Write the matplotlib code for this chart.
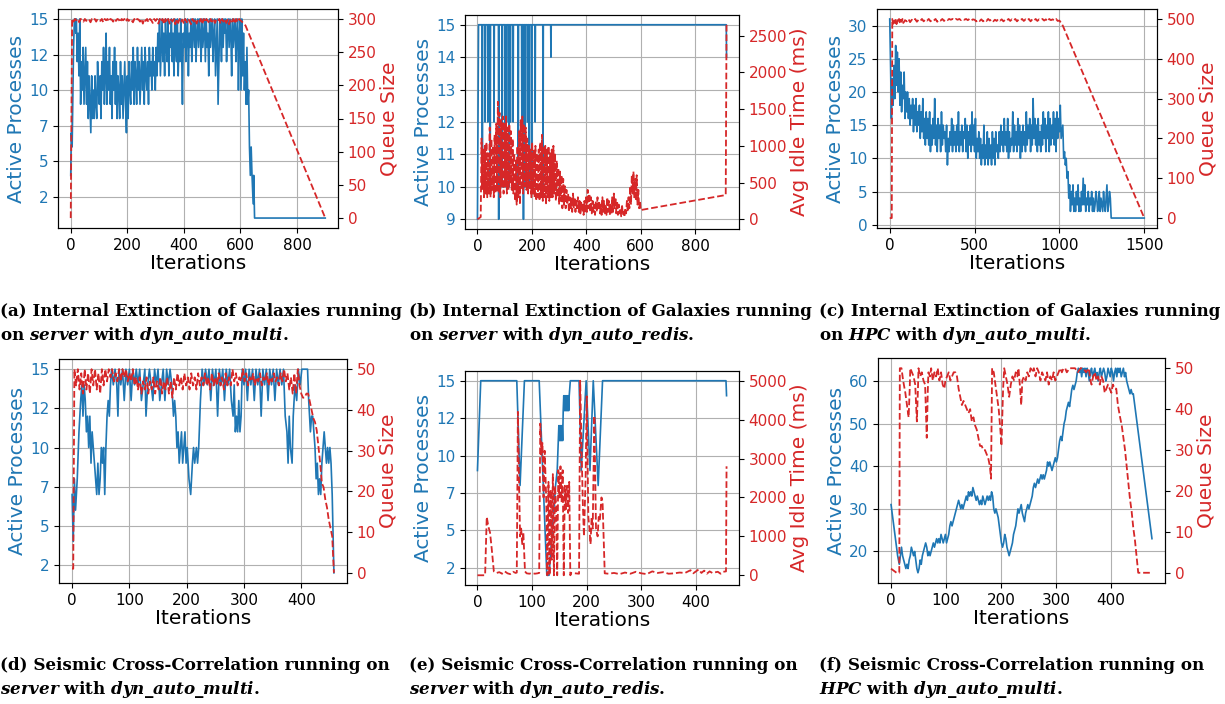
import matplotlib
matplotlib.use('Agg')
import matplotlib.pyplot as plt
import numpy as np
from matplotlib.ticker import MultipleLocator, FormatStrFormatter

plt.rcParams.update({
    'mathtext.fontset': 'custom',
    'mathtext.rm': 'DejaVu Serif:bold',
    'mathtext.it': 'DejaVu Serif:italic:bold',
    'mathtext.bf': 'DejaVu Serif:bold',
})

BLUE = '#1f77b4'
RED = '#d62728'

# ---------------- data (iteration, value) ----------------
a_proc = [(0,4),(2,7),(5,6),(8,10),(10,13),(13,15),(16,15),(18,14),
    (20,15),(23,12),(26,14),(29,11),(32,15),(35,9),(38,12),(41,10),(44,13),(47,9),(50,11),(53,13),(56,9),(59,12),
    (62,8),(65,11),(68,9),(71,7),(74,11),(77,8),(80,10),(83,8),(86,11),(89,9),(92,8),(95,12),(98,10),(101,9),(104,11),(107,8),
    (110,12),(113,10),(116,13),(119,9),(122,11),(125,14),(128,9),(131,12),(134,10),(137,13),(140,9),(143,11),(146,8),(149,12),
    (152,10),(155,13),(158,9),(161,12),(164,8),(167,11),(170,10),(173,8),(176,12),(179,9),(182,11),(185,8),(188,10),(191,12),(194,9),(197,7),
    (200,11),(203,8),(206,12),(209,10),(212,9),(215,12),(218,10),(221,13),(224,9),(227,12),(230,11),(233,9),(236,13),(239,10),(242,12),
    (245,9),(248,11),(251,13),(254,10),(257,12),(260,9),(263,13),(266,11),(269,10),(272,12),(275,9),(278,13),(281,11),(284,12),(287,10),
    (290,13),(293,11),(296,12),(299,10),
    (302,13),(305,11),(308,14),(311,12),(314,15),(317,11),(320,13),(323,15),(326,12),(329,14),(332,11),(335,15),(338,13),(341,12),(344,15),
    (347,11),(350,14),(353,13),(356,15),(359,12),(362,14),(365,11),(368,15),(371,13),(374,12),(377,15),(380,11),(383,14),(386,12),(389,15),
    (392,13),(395,9),(398,14),
    (401,13),(404,15),(407,12),(410,14),(413,15),(416,11),(419,14),(422,13),(425,15),(428,12),(431,14),(434,15),(437,13),(440,15),(443,12),
    (446,14),(449,15),(452,13),(455,15),(458,14),(461,12),(464,15),(467,13),(470,14),(473,15),(476,12),(479,15),(482,13),(485,14),(488,11),
    (491,15),(494,13),(497,14),(500,15),(503,12),(506,14),(509,15),(512,11),(515,13),(518,15),(521,9),(524,12),(527,15),(530,14),(533,12),
    (536,15),(539,13),(542,15),(545,14),(548,15),(551,12),(554,14),(557,15),(560,13),(563,15),(566,14),(569,11),(572,15),(575,13),(578,14),
    (581,15),(584,12),(587,14),(590,15),(593,10),(596,14),(599,15),
    (602,10),(605,15),(608,11),(611,14),(614,10),(617,12),(620,9),(623,13),(626,9),(629,10),(632,6),(635,4),(638,6),(641,4),(643,3),
    (645,2),(647,4),(650,1),(900,1)]

a_queue = [(0,0),(5,300),(10,296),(15,300),(20,298),(25,300),(30,295),(35,300),(40,299),(45,296),(50,300),(55,297),(60,300),(65,299),
    (70,295),(75,300),(80,298),(85,300),(90,296),(95,300),(100,299),(105,297),(110,300),(115,295),(120,300),(125,298),(130,300),(135,296),
    (140,300),(145,299),(150,296),(155,300),(160,297),(165,300),(170,299),(175,295),(180,300),(185,298),(190,300),(195,296),(200,300),
    (205,297),(210,300),(215,298),(220,295),(225,300),(230,297),(235,300),(240,299),(245,296),(250,300),(255,293),(260,300),(265,297),
    (270,300),(275,295),(280,300),(285,298),(290,294),(295,300),(300,297),(305,300),(310,293),(315,300),(320,296),(325,300),(330,292),
    (335,300),(340,295),(345,300),(350,293),(355,299),(360,296),(365,300),(370,292),(375,300),(380,294),(385,300),(390,296),(395,299),
    (400,293),(405,300),(410,295),(415,300),(420,297),(425,292),(430,300),(435,296),(440,300),(445,293),(450,299),(455,296),(460,300),
    (465,292),(470,300),(475,295),(480,300),(485,297),(490,293),(495,300),(500,296),(505,300),(510,294),(515,299),(520,297),(525,300),
    (530,293),(535,300),(540,296),(545,300),(550,294),(555,299),(560,292),(565,300),(570,296),(575,300),(580,293),(585,300),(590,295),
    (595,300),(600,298),(610,294),(618,290),(900,0)]

b_proc = [(0,9),(4,15),(17,15),(18,10),(19,15),(27,15),(28,12),(29,15),(37,15),(38,12),(39,15),(46,15),(47,10),(48,15),(60,15),(61,12),
    (62,15),(77,15),(78,9),(79,15),(90,15),(91,10),(92,15),(101,15),(102,10),(103,15),(106,15),(107,12),(108,15),(115,15),(116,10),(117,15),
    (120,15),(121,12),(122,15),(130,15),(131,12),(132,15),(149,15),(150,10),(151,15),(162,15),(163,12),(164,15),(168,15),(169,9),(170,15),
    (174,15),(175,10),(176,15),(183,15),(184,12),(185,15),(189,15),(190,10),(191,15),(198,15),(199,10),(200,15),(211,15),(212,12),(213,15),
    (240,15),(241,10),(242,15),(269,15),(270,14),(271,15),(914,15),(915,14)]

b_idle = [(0,0),(12,30),(15,1100),(18,400),(21,950),(24,300),(27,1000),(30,350),(33,1050),(36,300),(39,900),(42,350),(45,1250),(48,300),
    (51,1100),(54,400),(57,1000),(60,300),(63,1150),(66,350),(69,1300),(72,400),(75,1600),(78,350),(81,1450),(84,300),(87,1350),(90,450),
    (93,1400),(96,350),(99,1300),(102,450),(105,1400),(108,350),(111,1250),(114,400),(117,1300),(120,500),(123,1200),(126,400),(129,1100),
    (132,350),(135,900),(138,250),(141,800),(144,200),(147,1000),(150,300),(153,1200),(156,200),(159,1350),(162,400),(165,1400),(168,350),
    (171,1300),(174,450),(177,1250),(180,400),(183,1100),(186,350),(189,1000),(192,400),(195,950),(198,300),(201,1050),(204,350),(207,950),
    (210,300),(213,1000),(216,250),(219,900),(222,300),(225,950),(228,250),(231,1050),(234,300),(237,1150),(240,250),(243,1000),(246,300),
    (249,1000),(252,200),(255,950),(258,300),(261,1000),(264,250),(267,900),(270,300),(273,950),(276,300),(279,1000),(282,350),(285,900),
    (288,250),(291,800),(294,300),(297,700),(300,200),(303,650),(306,250),(309,600),(312,150),(315,550),(318,200),(321,450),(324,150),
    (327,400),(330,200),(333,350),(336,100),(339,300),(342,150),(345,300),(348,100),(351,350),(354,150),(357,300),(360,100),(363,250),
    (366,150),(369,300),(372,100),(375,250),(378,80),(381,250),(384,100),(387,220),(390,60),(393,250),(396,80),(399,300),(402,100),
    (405,400),(408,150),(411,350),(414,100),(417,300),(420,80),(423,250),(426,100),(429,200),(432,60),(435,250),(438,100),(441,300),
    (444,120),(447,250),(450,80),(453,200),(456,60),(459,300),(462,100),(465,250),(468,80),(471,200),(474,60),(477,300),(480,100),
    (483,250),(486,60),(489,200),(492,80),(495,300),(498,100),(501,350),(504,150),(507,300),(510,80),(513,250),(516,60),(519,200),
    (522,80),(525,150),(528,40),(531,200),(534,60),(537,100),(540,30),(543,150),(546,80),(549,250),(552,100),(555,300),(558,150),
    (561,450),(564,200),(567,600),(570,350),(573,650),(576,300),(579,550),(582,250),(585,600),(588,200),(591,400),(594,150),(597,250),
    (600,120),(606,130),(912,330),(915,2650)]

c_proc = [(0,31),(5,24),(10,16),(15,22),(20,18),(25,24),(30,19),(35,27),(40,21),(45,26),(50,20),(55,25),(60,18),(65,23),(70,17),(75,21),
    (80,19),(85,23),(90,16),(95,20),
    (100,17),(105,20),(110,16),(115,19),(120,15),(125,18),(130,16),(135,19),(140,14),(145,18),(150,15),(155,19),(160,14),(165,17),(170,15),
    (175,18),(180,13),(185,17),(190,14),(195,19),(200,13),(205,16),(210,12),(215,17),(220,13),(225,16),(230,12),(235,17),(240,11),(245,15),
    (250,12),(255,16),(260,13),(265,19),(270,12),(275,15),(280,11),(285,16),(290,13),(295,15),(300,11),(305,17),(310,12),(315,15),(320,13),
    (325,14),(330,11),(335,15),(340,9),(345,13),(350,11),(355,14),(360,12),(365,16),(370,11),(375,15),(380,12),(385,14),(390,11),(395,15),
    (400,12),(405,17),(410,11),(415,14),(420,12),(425,15),(430,11),(435,14),(440,13),(445,16),(450,11),(455,15),(460,10),(465,14),(470,12),
    (475,15),(480,11),(485,17),(490,12),(495,15),(500,11),(505,16),(510,10),(515,13),(520,11),(525,14),(530,10),(535,13),(540,9),(545,12),
    (550,10),(555,15),(560,9),(565,12),(570,10),(575,14),(580,9),(585,13),(590,10),(595,12),(600,9),(605,14),(610,10),(615,13),(620,9),
    (625,14),(630,11),(635,12),(640,10),(645,14),(650,11),(655,15),(660,12),(665,14),(670,11),(675,16),(680,12),(685,14),(690,11),(695,16),
    (700,10),(705,14),(710,11),(715,13),(720,12),(725,17),(730,11),(735,15),(740,12),(745,14),(750,11),(755,16),(760,12),(765,15),(770,10),
    (775,14),(780,11),(785,15),(790,12),(795,14),(800,11),(805,17),(810,12),(815,15),(820,13),(825,16),(830,11),(835,15),(840,12),(845,19),
    (850,13),(855,16),(860,12),(865,15),(870,11),(875,16),(880,12),(885,14),(890,11),(895,15),(900,12),(905,17),(910,13),(915,16),(920,11),
    (925,15),(930,13),(935,17),(940,11),(945,16),(950,12),(955,15),(960,13),(965,17),(970,12),(975,16),(980,11),(985,17),(990,13),(995,16),
    (1000,14),(1005,18),(1010,13),(1020,15),(1025,10),(1030,11),(1035,9),(1040,10),(1045,7),(1050,8),
    (1055,4),(1060,6),(1065,2),(1070,5),(1075,3),(1080,6),(1085,2),(1090,4),(1095,2),(1100,5),(1105,3),(1110,6),(1115,2),(1120,4),(1125,2),
    (1130,5),(1135,3),(1140,7),(1145,3),(1150,6),(1155,2),(1160,4),(1165,3),(1170,5),(1175,2),(1180,4),(1185,3),(1190,5),(1195,2),(1200,4),
    (1205,2),(1210,3),(1215,5),(1220,4),(1225,2),(1230,3),(1235,5),(1240,2),(1245,4),(1250,3),(1255,2),(1260,5),(1265,3),(1270,2),(1275,4),
    (1280,6),(1285,2),(1290,3),(1295,5),(1300,4),(1305,1),(1500,1)]

c_queue = [(0,0),(12,0),(15,500),(20,488),(25,498),(30,490),(35,500),(40,487),(45,497),(50,492),(55,500),(60,489),(65,498),(70,493),
    (75,500),(80,490),(90,497),(100,494),(110,500),(120,492),(130,498),(140,495),(150,500),(160,493),(170,498),(180,495),(190,500),
    (200,494),(210,499),(220,496),(230,500),(240,494),(250,498),(260,496),(270,500),(280,493),(290,498),(300,496),(310,500),(320,495),
    (330,499),(340,497),(350,500),(360,498),(370,500),(380,497),(390,500),(400,498),(410,500),(420,497),(430,500),(440,498),(450,500),
    (460,497),(470,500),(480,496),(490,499),(500,498),(510,494),(520,498),(530,495),(540,499),(550,494),(560,498),(570,495),(580,500),
    (590,496),(600,499),(610,494),(620,498),(630,495),(640,500),(650,496),(660,499),(670,494),(680,498),(690,496),(700,500),(710,495),
    (720,499),(730,496),(740,500),(750,494),(760,499),(770,497),(780,500),(790,495),(800,499),(810,496),(820,500),(830,494),(840,499),
    (850,496),(860,500),(870,495),(880,499),(890,497),(900,500),(910,496),(920,499),(930,494),(940,500),(950,497),(960,499),(970,496),
    (980,500),(990,495),(1000,496),(1010,490),(1020,483),(1500,0)]

d_proc = [(0,7),(2,4),(4,8),(6,6),(9,8),(12,11),(15,13),(17,14),(19,12),(21,14),(23,13),(25,11),(27,12),(29,10),(31,12),(33,9),(35,11),
    (37,10),(39,9),(41,8),(43,7),(45,9),(47,7),(49,8),(51,10),(53,9),(55,10),(57,7),(59,10),(61,12),(63,13),(65,12),(67,14),(69,15),(72,14),
    (75,15),(78,14),(80,12),(82,15),(85,14),(88,15),(91,13),(94,15),(97,14),(100,15),(103,13),(106,15),(109,14),(112,15),(115,14),(118,15),
    (121,13),(124,14),(127,15),(129,12),(132,14),(135,15),(138,14),(141,13),(144,15),(147,14),(150,15),(153,13),(156,14),(159,15),(162,13),
    (165,15),(168,14),(171,15),(174,14),(177,12),(179,13),(181,12),(183,10),(185,11),(187,9),(189,10),(191,11),(193,9),(195,10),(197,11),
    (199,9),(201,10),(204,8),(207,7),(210,9),(212,10),(214,9),(217,10),(219,9),(221,10),(224,13),(227,15),(230,14),(233,15),(236,14),
    (239,15),(242,13),(245,15),(248,14),(251,15),(254,12),(257,15),(260,14),(263,15),(266,13),(269,15),(272,14),(275,15),(278,13),(281,12),
    (283,14),(285,11),(287,12),(289,11),(291,13),(293,11),(295,12),(297,15),(300,14),(303,15),(306,13),(309,15),(312,14),(315,15),(318,13),
    (321,15),(324,14),(327,15),(330,12),(333,15),(336,14),(339,15),(342,13),(345,15),(348,14),(351,15),(354,13),(357,15),(360,14),(363,15),
    (366,14),(369,15),(372,12),(375,11),(377,9),(379,12),(381,10),(384,9),(386,12),(389,14),(392,13),(395,15),(398,14),(401,15),(404,15),
    (408,15),(411,15),(413,13),(416,11),(418,12),(420,12),(422,11),(424,10),(426,8),(428,9),(430,7),(432,8),(434,7),(436,9),(438,10),
    (440,11),(442,10),(444,9),(446,10),(448,9),(450,10),(452,9),(454,7),(457,2)]

d_queue = [(0,1),(2,1),(4,50),(7,46),(10,50),(13,45),(16,49),(19,44),(22,50),(25,45),(28,49),(31,44),(34,50),(37,46),(40,50),(43,45),
    (46,49),(49,44),(52,50),(55,46),(58,50),(61,47),(64,50),(67,48),(70,50),(73,47),(76,49),(79,47),(82,50),(85,47),(88,50),(91,48),
    (94,50),(97,47),(100,49),(103,47),(106,50),(109,46),(112,48),(115,45),(118,48),(121,44),(124,47),(127,45),(130,48),(133,44),(136,47),
    (139,45),(142,48),(145,44),(148,47),(151,45),(154,48),(157,44),(160,47),(163,45),(166,48),(169,44),(172,47),(175,43),(178,48),(181,45),
    (184,49),(187,46),(190,48),(193,45),(196,49),(199,46),(202,48),(205,45),(208,49),(211,46),(214,48),(217,45),(220,49),(223,46),(226,48),
    (229,46),(232,49),(235,46),(238,48),(241,45),(244,49),(247,46),(250,48),(253,46),(256,49),(259,46),(262,48),(265,45),(268,49),(271,46),
    (274,48),(277,46),(280,50),(283,47),(286,49),(289,46),(292,48),(295,47),(298,50),(301,47),(304,49),(307,46),(310,48),(313,47),(316,49),
    (319,46),(322,48),(325,47),(328,49),(331,46),(334,48),(337,47),(340,49),(343,46),(346,48),(349,47),(352,49),(355,47),(358,48),(361,46),
    (364,49),(367,47),(370,50),(373,47),(376,49),(379,45),(382,48),(385,44),(388,49),(391,44),(394,50),(397,46),(400,44),(403,43),(406,43),
    (409,44),(412,44),(415,42),(418,40),(421,38),(424,37),(427,35),(430,31),(433,27),(436,22),(439,21),(442,18),(445,16),(448,13),(451,11),
    (454,9),(457,0)]

e_proc = [(0,9),(6,15),(72,15),(78,8),(86,15),(113,15),(127,2),(131,2),(135,4),(139,6),(143,8),(146,9),(149,12),(150,11),(151,12),(152,11),
    (153,12),(154,11),(155,12),(156,11),(157,13),(158,14),(159,13),(160,14),(161,13),(162,14),(163,13),(164,14),(165,13),(166,14),(167,13),
    (168,14),(170,15),(186,15),(190,9),(199,15),(206,9),(212,15),(221,8),(229,15),(455,15),(456,14)]

e_idle = [(0,0),(14,0),(17,1500),(20,1250),(23,1100),(26,700),(30,100),(35,60),(40,80),(45,40),(50,100),(55,50),(60,30),(65,90),(70,60),
    (72,70),(74,4200),(76,2500),(78,1000),(80,1200),(82,800),(84,1100),(87,100),(90,50),(95,40),(100,60),(105,40),(110,50),(113,60),
    (115,3900),(117,3100),(119,3400),(121,2000),(123,3200),(124,2800),(126,1900),(128,0),(130,2400),(132,0),(134,2200),(136,400),(138,2600),
    (140,0),(142,2300),(144,1800),(146,0),(148,2700),(150,2000),(152,2800),(154,1900),(156,2700),(158,0),(160,2300),(162,1700),(164,2300),
    (166,1600),(168,2400),(170,0),(172,60),(186,40),(188,5000),(191,3000),(193,1800),(195,1000),(198,2500),(200,4600),(203,1500),(205,1200),
    (207,800),(209,1500),(211,1200),(214,4100),(217,1200),(220,1000),(222,1500),(224,1400),(227,2000),(229,1900),(233,50),(240,40),
    (250,60),(260,30),(270,70),(280,40),(290,90),(300,50),(310,30),(320,100),(330,60),(340,80),(350,40),(360,50),(370,70),(380,60),
    (390,130),(395,50),(400,100),(405,150),(410,60),(415,120),(420,40),(425,100),(430,60),(440,90),(445,40),(450,90),(455,100),(456,2800)]

f_proc = [(0,31),(4,27),(8,23),(12,19),(15,17),(17,19),(19,21),(21,19),(23,18),(25,17),(27,16),(29,17),(31,16),(33,18),(35,19),(37,21),
    (39,20),(41,19),(43,20),(45,18),(47,16),(49,15),(51,16),(53,18),(55,17),(57,19),(59,20),(61,21),(63,22),(65,21),(67,19),(69,20),(71,19),
    (73,20),(75,21),(77,22),(79,21),(81,22),(83,23),(85,22),(87,23),(89,22),(91,24),(93,23),(95,22),(97,23),(99,24),(101,22),(103,23),
    (105,24),(107,26),(109,27),(111,26),(113,27),(115,28),(117,29),(119,30),(121,31),(123,32),(125,31),(127,30),(129,31),(131,30),(133,31),
    (135,32),(137,33),(139,32),(141,34),(143,33),(145,34),(147,33),(149,35),(151,34),(153,33),(155,32),(157,33),(159,32),(161,31),(163,32),
    (165,31),(167,33),(169,32),(171,31),(173,32),(175,33),(177,32),(179,33),(181,32),(183,34),(185,33),(187,30),(189,29),(191,30),(193,29),
    (195,28),(197,26),(199,24),(201,22),(203,21),(205,22),(207,24),(209,23),(211,21),(213,20),(215,19),(217,20),(219,21),(221,22),(223,24),
    (225,25),(227,26),(229,28),(231,30),(233,29),(235,30),(237,31),(239,29),(241,28),(243,27),(245,29),(247,30),(249,31),(251,30),(253,31),
    (255,32),(257,33),(259,35),(261,36),(263,35),(265,36),(267,37),(269,36),(271,37),(273,38),(275,37),(277,38),(279,37),(281,38),(283,39),
    (285,41),(287,40),(289,41),(291,40),(293,39),(295,40),(297,41),(299,42),(301,41),(303,42),(305,44),(307,46),(309,47),(311,46),(313,48),
    (315,50),(317,51),(319,53),(321,54),(323,55),(325,54),(327,56),(329,58),(331,59),(333,58),(335,59),(337,60),(339,62),(341,63),(343,62),
    (345,63),(347,61),(349,63),(351,62),(353,63),(355,61),(357,63),(359,62),(361,60),(363,62),(365,63),(367,61),(369,62),(371,63),(373,61),
    (375,62),(377,60),(379,62),(381,63),(383,61),(385,62),(387,63),(389,62),(391,60),(393,61),(395,63),(397,62),(399,61),(401,63),(403,62),
    (405,60),(407,62),(409,63),(411,61),(413,63),(415,62),(417,63),(419,61),(421,62),(423,63),(425,61),(427,62),(429,60),(431,59),(433,58),
    (435,57),(437,58),(439,57),(441,57),(475,23)]

f_queue = [(0,1),(10,0),(15,0),(16,50),(19,50),(22,47),(26,44),(29,41),(32,38),(34,45),(35,50),(38,49),(41,48),(44,46),(47,37),(49,45),
    (50,50),(53,48),(56,49),(59,47),(62,46),(65,33),(67,45),(68,49),(71,48),(73,50),(76,47),(79,49),(82,48),(85,50),(88,47),(91,49),(94,46),
    (97,45),(99,47),(102,48),(105,49),(108,47),(111,48),(114,49),(117,49),(120,48),(123,45),(126,43),(129,41),(132,42),(135,41),(138,40),
    (141,39),(144,40),(147,37),(150,38),(153,36),(156,35),(159,33),(162,31),(165,31),(168,30),(171,30),(174,29),(177,28),(180,26),(182,23),
    (184,50),(187,49),(190,46),(193,43),(196,40),(199,35),(201,31),(204,45),(206,50),(209,48),(212,46),(215,43),(218,46),(221,48),(224,47),
    (227,49),(230,48),(232,50),(235,45),(237,41),(239,47),(242,48),(245,47),(248,49),(251,48),(254,50),(257,49),(260,50),(263,48),(266,50),
    (269,49),(272,47),(275,49),(278,48),(281,47),(284,49),(287,46),(290,48),(293,47),(296,49),(299,47),(302,48),(305,49),(308,50),(311,49),
    (314,50),(317,50),(320,49),(325,50),(330,50),(335,50),(340,49),(345,50),(350,50),(355,49),(360,50),(363,47),(365,46),(368,48),(371,49),
    (374,47),(377,48),(380,46),(383,48),(386,47),(389,44),(392,45),(395,46),(398,45),(401,44),(404,46),(407,45),(410,45),(413,41),(417,38),
    (420,36),(423,33),(426,30),(429,26),(432,22),(435,18),(438,15),(441,11),(444,8),(447,4),(450,0),(475,0)]

panels = [
    dict(rect=(58, 338, 9, 228), proc=a_proc, other=a_queue, rlabel='Queue Size', ystep=2.5, xstep=200),
    dict(rect=(465, 739, 15, 229), proc=b_proc, other=b_idle, rlabel='Avg Idle Time (ms)', ystep=1, xstep=200),
    dict(rect=(877, 1157, 9, 228), proc=c_proc, other=c_queue, rlabel='Queue Size', ystep=5, xstep=500),
    dict(rect=(59, 347, 359, 583), proc=d_proc, other=d_queue, rlabel='Queue Size', ystep=2.5, xstep=100),
    dict(rect=(465, 739, 371, 585), proc=e_proc, other=e_idle, rlabel='Avg Idle Time (ms)', ystep=2.5, xstep=100),
    dict(rect=(878, 1165, 358, 583), proc=f_proc, other=f_queue, rlabel='Queue Size', ystep=10, xstep=100),
]

W, H = 1225, 704
fig = plt.figure(figsize=(W / 100, H / 100), dpi=100)

TICK = 11
LAB = 14.5
for p in panels:
    l, r, t, b = p['rect']
    ax = fig.add_axes([l / W, 1 - b / H, (r - l) / W, (b - t) / H])
    arr = np.array(p['proc'], dtype=float)
    ax.plot(arr[:, 0], arr[:, 1], color=BLUE, lw=1.2)
    ax.set_xlabel('Iterations', fontsize=LAB, labelpad=1)
    ax.set_ylabel('Active Processes', color=BLUE, fontsize=LAB, labelpad=2)
    ax.yaxis.set_major_locator(MultipleLocator(p['ystep']))
    ax.yaxis.set_major_formatter(FormatStrFormatter('%d'))
    ax.xaxis.set_major_locator(MultipleLocator(p['xstep']))
    ax.tick_params(axis='y', labelcolor=BLUE, labelsize=TICK)
    ax.tick_params(axis='x', labelsize=TICK)
    ax.grid(True, color='#b0b0b0', lw=0.8)
    ax2 = ax.twinx()
    arr2 = np.array(p['other'], dtype=float)
    ax2.plot(arr2[:, 0], arr2[:, 1], color=RED, ls='--', lw=1.3)
    ax2.set_ylabel(p['rlabel'], color=RED, fontsize=LAB, labelpad=2)
    ax2.tick_params(axis='y', labelcolor=RED, labelsize=TICK)

captions = [
    (0, 311, '(a) Internal Extinction of Galaxies running'),
    (0, 335, r'on $\mathit{server}$ with $\mathit{dyn\_auto\_multi}$.'),
    (409, 311, '(b) Internal Extinction of Galaxies running'),
    (409, 335, r'on $\mathit{server}$ with $\mathit{dyn\_auto\_redis}$.'),
    (819, 311, '(c) Internal Extinction of Galaxies running'),
    (819, 335, r'on $\mathit{HPC}$ with $\mathit{dyn\_auto\_multi}$.'),
    (0, 666, '(d) Seismic Cross-Correlation running on'),
    (0, 690, r'$\mathit{server}$ with $\mathit{dyn\_auto\_multi}$.'),
    (409, 666, '(e) Seismic Cross-Correlation running on'),
    (409, 690, r'$\mathit{server}$ with $\mathit{dyn\_auto\_redis}$.'),
    (819, 666, '(f) Seismic Cross-Correlation running on'),
    (819, 690, r'$\mathit{HPC}$ with $\mathit{dyn\_auto\_multi}$.'),
]
for x, y, s in captions:
    fig.text(x / W, 1 - y / H, s, fontsize=12.1, family='DejaVu Serif',
             fontweight='bold', va='center', ha='left')

fig.savefig('out.png', dpi=100)
